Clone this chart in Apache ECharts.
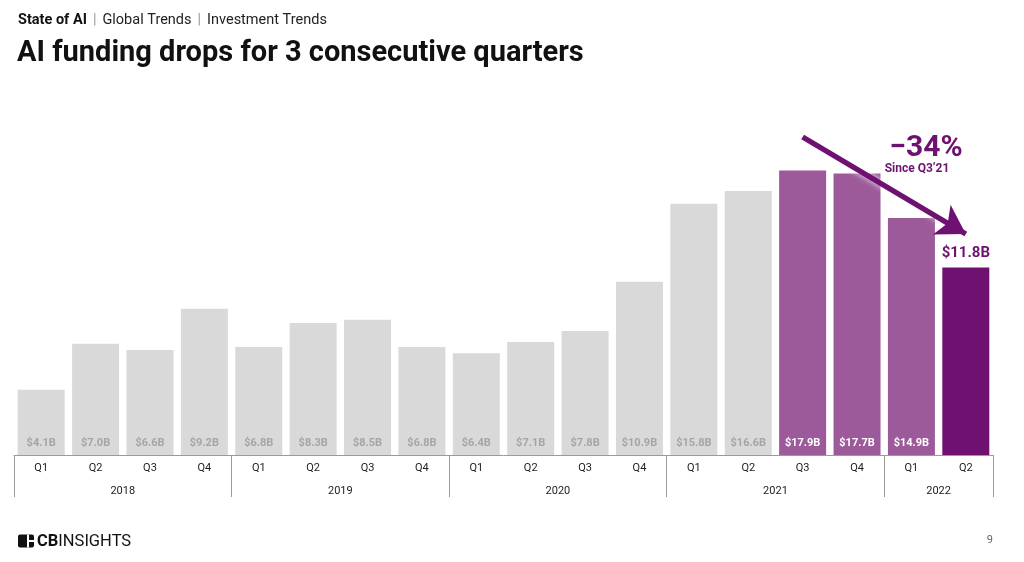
<!DOCTYPE html>
<html>
<head>
<meta charset="utf-8">
<script src="https://cdn.jsdelivr.net/npm/echarts@6/dist/echarts.min.js"></script>
<style>
  html, body { margin: 0; padding: 0; background: #fff; }
  #chart { width: 1024px; height: 562px; }
</style>
</head>
<body>
<div id="chart"></div>
<script>
// AI funding by quarter, $B — grey history, purple for the decline since Q3'21
const quarters = ["Q1", "Q2", "Q3", "Q4", "Q1", "Q2", "Q3", "Q4", "Q1", "Q2", "Q3", "Q4", "Q1", "Q2", "Q3", "Q4", "Q1", "Q2"];
const years = ["2018", "2019", "2020", "2021", "2022"];
const yearBounds = [0, 4, 8, 12, 16, 18];
const yearCenters = [2, 6, 10, 14, 17];
const funding = [4.1, 7.0, 6.6, 9.2, 6.8, 8.3, 8.5, 6.8, 6.4, 7.1, 7.8, 10.9, 15.8, 16.6, 17.9, 17.7, 14.9, 11.8];
const dropFrom = 14; // Q3'21
const dropTo = 17;   // Q2'22
const dropStartY = 20.0;
const dropEndY = 13.9;

const GREY = "#d9d9d9";
const GREY_INK = "#a5a5a5";
const PURPLE = "#9c5a9b";
const DEEP = "#6e1170";
const AXIS = "#9a9a9a";
const FONT = "Roboto, 'Noto Sans', sans-serif";

const chart = echarts.init(document.getElementById("chart"));

const barData = funding.map((v, i) => {
  if (i === dropTo) {
    return {
      value: v,
      itemStyle: { color: DEEP },
      label: { position: "top", distance: 7, color: DEEP, fontSize: 15, fontWeight: "bold" },
    };
  }
  const purple = i >= dropFrom;
  return {
    value: v,
    itemStyle: { color: purple ? PURPLE : GREY },
    label: { color: purple ? "#fff" : GREY_INK },
  };
});

chart.setOption({
  backgroundColor: "#fff",
  animation: false,
  textStyle: { fontFamily: FONT },
  grid: { left: 14, right: 31, top: 137, bottom: 107 },
  xAxis: [
    {
      type: "category",
      data: quarters,
      axisLine: { lineStyle: { color: AXIS, width: 1 } },
      axisTick: { show: false },
      axisLabel: { color: "#222", fontSize: 11, margin: 8 },
    },
    {
      type: "value",
      min: 0,
      max: 18,
      position: "bottom",
      axisLine: { show: false },
      splitLine: { show: false },
      axisTick: { show: true, customValues: yearBounds, length: 42, lineStyle: { color: AXIS } },
      axisLabel: {
        customValues: yearCenters,
        margin: 31,
        color: "#222",
        fontSize: 11,
        formatter: (v) => years[yearCenters.indexOf(v)],
      },
    },
  ],
  yAxis: { type: "value", min: 0, max: 20, show: false },
  series: [
    {
      type: "bar",
      xAxisIndex: 0,
      barWidth: 47,
      data: barData,
      label: {
        show: true,
        position: "insideBottom",
        distance: 6,
        fontSize: 11,
        fontWeight: "bold",
        formatter: (p) => "$" + p.value.toFixed(1) + "B",
      },
      markLine: {
        silent: true,
        symbol: ["none", "arrow"],
        symbolSize: [26, 28],
        label: { show: false },
        lineStyle: {
          color: DEEP,
          width: 5.5,
          type: "solid",
          shadowColor: "rgba(255,255,255,0.9)",
          shadowBlur: 6,
        },
        data: [[{ coord: [dropFrom, dropStartY] }, { coord: [dropTo, dropEndY] }]],
      },
    },
  ],
  graphic: [
    {
      type: "text",
      left: 18,
      top: 13,
      style: {
        rich: {
          b: { fontSize: 14.5, fontWeight: "bold", fill: "#111", fontFamily: FONT },
          s: { fontSize: 14.5, fill: "#999", fontFamily: FONT, padding: [0, 6] },
          r: { fontSize: 14.5, fill: "#222", fontFamily: FONT },
        },
        text: "{b|State of AI}{s||}{r|Global Trends}{s||}{r|Investment Trends}",
      },
    },
    {
      type: "text",
      left: 17,
      top: 39,
      style: { text: "AI funding drops for 3 consecutive quarters", fontSize: 29, fontWeight: "bold", fill: "#111", fontFamily: FONT },
    },
    {
      type: "text",
      x: 926,
      y: 148,
      style: { text: "\u221234%", fontSize: 30, fontWeight: "bold", fill: DEEP, fontFamily: FONT, align: "center", verticalAlign: "middle" },
    },
    {
      type: "text",
      x: 917,
      y: 169,
      style: { text: "Since Q3\u201921", fontSize: 12, fontWeight: "bold", fill: DEEP, fontFamily: FONT, align: "center", verticalAlign: "middle" },
    },
    // CB Insights wordmark
    {
      type: "group",
      left: 18,
      top: 533,
      children: [
        { type: "rect", shape: { x: 0, y: 0, width: 16, height: 13, r: 2 }, style: { fill: "#111" } },
        { type: "rect", shape: { x: 9, y: 0, width: 2, height: 13 }, style: { fill: "#fff" } },
        { type: "rect", shape: { x: 9, y: 5.5, width: 7, height: 2 }, style: { fill: "#fff" } },
        {
          type: "text",
          x: 19,
          y: -1.5,
          style: {
            rich: {
              cb: { fontSize: 16.5, fontWeight: "bold", fill: "#111", fontFamily: FONT },
              ins: { fontSize: 16.5, fill: "#111", fontFamily: FONT },
            },
            text: "{cb|CB}{ins|INSIGHTS}",
          },
        },
      ],
    },
    {
      type: "text",
      x: 993,
      y: 540,
      style: { text: "9", fontSize: 11, fill: "#666", fontFamily: FONT, align: "right", verticalAlign: "middle" },
    },
  ],
});
</script>
</body>
</html>
